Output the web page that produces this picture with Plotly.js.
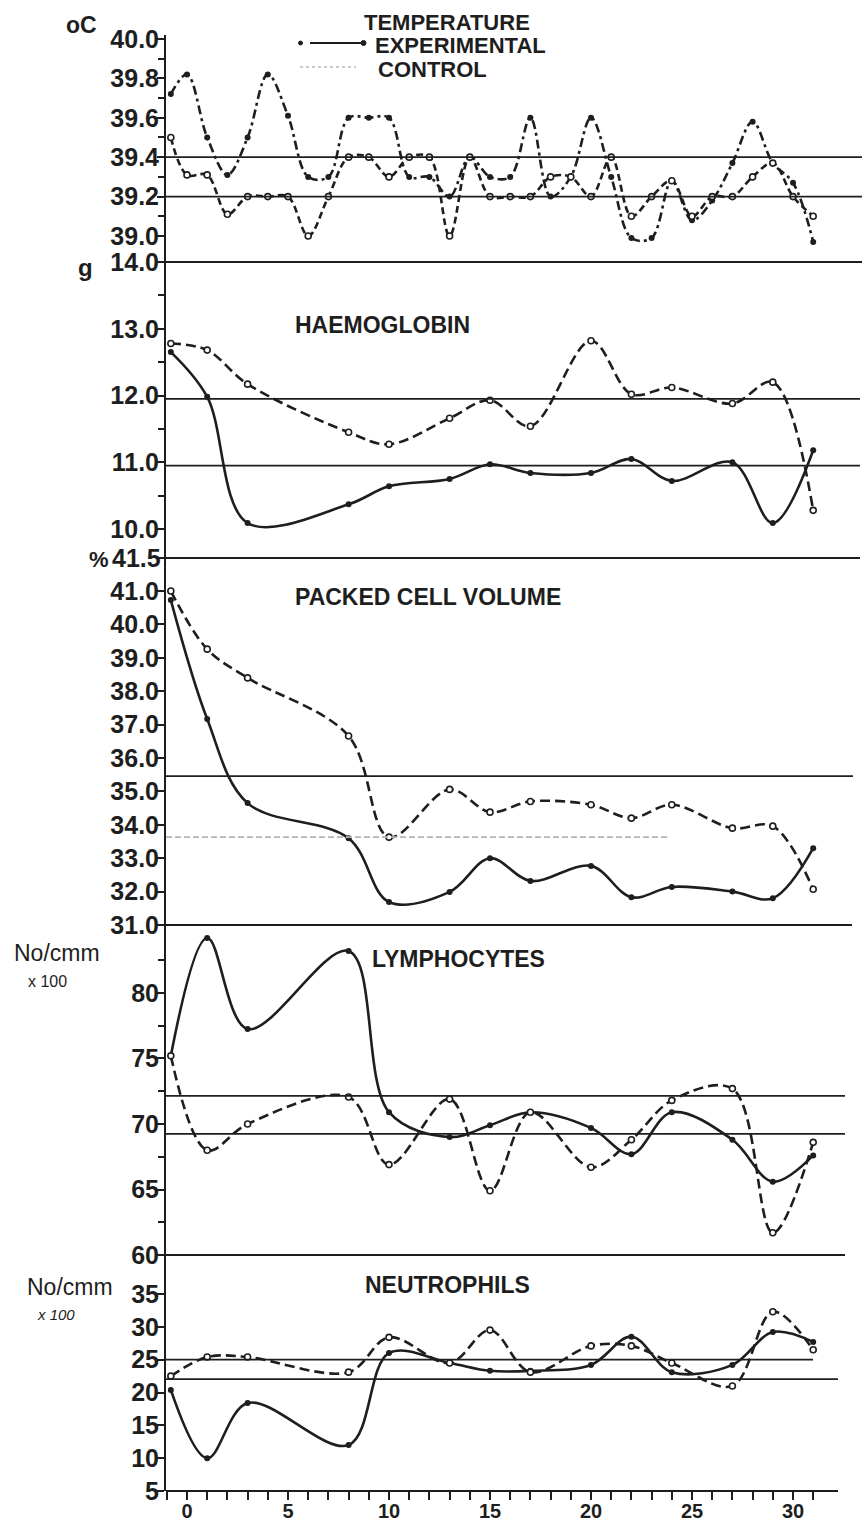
<!DOCTYPE html>
<html>
<head>
<meta charset="utf-8">
<script src="https://cdn.plot.ly/plotly-3.0.1.min.js"></script>
<style>
html,body{margin:0;padding:0;background:#fff;}
#chart{width:864px;height:1525px;}
</style>
</head>
<body>
<div id="chart"></div>
<script>
// ---------------- DATA ----------------
var tempDays = [-0.8,0,1,2,3,4,5,6,7,8,9,10,11,12,13,14,15,16,17,18,19,20,21,22,23,24,25,26,27,28,29,30,31];
var tempExp  = [39.72,39.82,39.5,39.31,39.5,39.82,39.61,39.3,39.3,39.6,39.6,39.6,39.3,39.3,39.2,39.4,39.3,39.3,39.6,39.2,39.3,39.6,39.3,38.99,38.99,39.28,39.08,39.18,39.37,39.58,39.37,39.27,38.97];
var tempCon  = [39.5,39.31,39.31,39.11,39.2,39.2,39.2,39.0,39.2,39.4,39.4,39.3,39.4,39.4,39.0,39.4,39.2,39.2,39.2,39.3,39.3,39.2,39.4,39.1,39.2,39.28,39.1,39.2,39.2,39.3,39.37,39.2,39.1];

var sampleDays = [-0.8,1,3,8,10,13,15,17,20,22,24,27,29,31];
var hbExp  = [12.65,11.98,10.09,10.37,10.64,10.75,10.97,10.84,10.84,11.05,10.72,11.0,10.09,11.18];
var hbCon  = [12.78,12.68,12.17,11.45,11.27,11.66,11.93,11.54,12.82,12.02,12.12,11.88,12.2,10.28];
var pcvExp = [40.73,37.17,34.65,33.6,31.69,31.99,33.0,32.32,32.77,31.83,32.14,32.0,31.8,33.3];
var pcvCon = [41.0,39.26,38.4,36.66,33.63,35.06,34.38,34.7,34.6,34.2,34.6,33.9,33.96,32.07];
var lymExp = [75.2,84.2,77.25,83.2,70.9,69.0,69.9,70.9,69.7,67.7,70.9,68.8,65.6,67.6];
var lymCon = [75.2,68.0,70.0,72.06,66.9,71.9,64.9,70.9,66.7,68.8,71.8,72.7,61.7,68.6];
var neuExp = [20.4,10.0,18.4,12.0,26.0,24.5,23.3,23.3,24.2,28.5,23.1,24.2,29.2,27.7];
var neuCon = [22.5,25.4,25.4,23.1,28.4,24.5,29.5,23.1,27.1,27.1,24.5,21.0,32.3,26.5];

// normal-range reference lines
var tempRef = [39.4, 39.2];
var hbRef   = [11.95, 10.95];
var pcvRef  = [35.46];
var pcvRefFaint = [33.63];
var lymRef  = [72.14, 69.24];
var neuRef  = [25.0, 22.05];

// tick labels
var xTickVals = [-1,0,1,2,3,4,5,6,7,8,9,10,11,12,13,14,15,16,17,18,19,20,21,22,23,24,25,26,27,28,29,30,31];
var xTickText = ['','0','','','','','5','','','','','10','','','','','15','','','','','20','','','','','25','','','','','30',''];
var tempTicks = [39.0,39.2,39.4,39.6,39.8,40.0];
var tempTickText = ['39.0','39.2','39.4','39.6','39.8','40.0'];
var tempMinor = [39.1,39.3,39.5,39.7,39.9];
var hbTicks = [10,11,12,13,14];
var hbTickText = ['10.0','11.0','12.0','13.0','14.0'];
var hbMinor = [10.5,11.5,12.5,13.5];
var pcvTicks = [31,32,33,34,35,36,37,38,39,40,41];
var pcvTickText = ['31.0','32.0','33.0','34.0','35.0','36.0','37.0','38.0','39.0','40.0','41.0'];
var lymTicks = [60,65,70,75,80];
var lymTickText = ['60','65','70','75','80'];
var lymMinor = [62.5,67.5,72.5,77.5,82.5];
var neuTicks = [5,10,15,20,25,30,35];
var neuTickText = ['5','10','15','20','25','30','35'];

// ---------------- LAYOUT HELPERS ----------------
var W = 864, H = 1525, ML = 166, MR = 2, MT = 35, MB = 34;
var PW = W - ML - MR, PH = H - MT - MB;
function px(x){ return (x - ML) / PW; }
function py(y){ return (H - MB - y) / PH; }
var INK = '#1e1e1e';
var FONT = 'Liberation Sans, Arial, Helvetica, sans-serif';

function expTrace(x, y, ya, dash){
  return {x:x, y:y, yaxis:ya, xaxis:'x', type:'scatter', mode:'lines+markers',
    line:{color:INK, width:2.6, shape:'spline', smoothing:1, dash:dash||'solid'},
    marker:{color:INK, size:6, symbol:'circle'}, showlegend:false, hoverinfo:'skip'};
}
function conTrace(x, y, ya, dash){
  return {x:x, y:y, yaxis:ya, xaxis:'x', type:'scatter', mode:'lines+markers',
    line:{color:INK, width:2.6, shape:'spline', smoothing:1, dash:dash||'10px,5px'},
    marker:{color:'#fff', size:6, symbol:'circle', line:{color:INK, width:1.6}}, showlegend:false, hoverinfo:'skip'};
}

var traces = [
  expTrace(tempDays, tempExp, 'y', '9px,4px,3px,4px'),
  conTrace(tempDays, tempCon, 'y', '7px,4px'),
  expTrace(sampleDays, hbExp, 'y2'),
  conTrace(sampleDays, hbCon, 'y2'),
  expTrace(sampleDays, pcvExp, 'y3'),
  conTrace(sampleDays, pcvCon, 'y3'),
  expTrace(sampleDays, lymExp, 'y4'),
  conTrace(sampleDays, lymCon, 'y4'),
  expTrace(sampleDays, neuExp, 'y5'),
  conTrace(sampleDays, neuCon, 'y5')
];

var tickFont = {family:FONT, size:25, color:INK, weight:'bold'};
function yAxis(dom, rng, tv, tt, minor){
  var a = {domain:dom, range:rng, anchor:'x', showline:true, linecolor:INK, linewidth:2,
    ticks:'outside', ticklen:7, tickwidth:2, tickcolor:INK, showgrid:false, zeroline:false,
    tickmode:'array', tickvals:tv, ticktext:tt, tickfont:tickFont, ticklabelstandoff:-7, fixedrange:true};
  if (minor) a.minor = {tickmode:'array', tickvals:minor, ticks:'outside', ticklen:6, tickwidth:2, tickcolor:INK, showgrid:false};
  return a;
}

var xPerPx = 1/20.2, day0px = 187;
function dx(p){ return (p - day0px) * xPerPx; }

var shapes = [];
function hline(ya, v, x1px, color, dash, w){
  shapes.push({type:'line', xref:'x', yref:ya, x0:dx(ML), x1:dx(x1px), y0:v, y1:v,
    line:{color:color||INK, width:w||1.8, dash:dash||'solid'}});
}
tempRef.forEach(function(v){ hline('y', v, 862); });
hbRef.forEach(function(v){ hline('y2', v, 860); });
pcvRef.forEach(function(v){ hline('y3', v, 853); });
pcvRefFaint.forEach(function(v){ hline('y3', v, 670, '#b5b5b5', '6px,3px', 1.6); });
hline('y4', lymRef[0], 845); hline('y4', lymRef[1], 845);
hline('y5', neuRef[0], 813); hline('y5', neuRef[1], 838);

// panel separators
[[262,862],[558,860],[925,852],[1255,845]].forEach(function(s){
  shapes.push({type:'line', xref:'paper', yref:'paper', x0:px(159), x1:px(s[1]), y0:py(s[0]), y1:py(s[0]),
    line:{color:INK, width:2.2}});
});
// bottom axis line
shapes.push({type:'line', xref:'x', yref:'paper', x0:dx(ML), x1:dx(838), y0:0, y1:0, line:{color:INK, width:2.2}});
// legend samples
shapes.push({type:'line', xref:'paper', yref:'paper', x0:px(310), x1:px(361), y0:py(43), y1:py(43), line:{color:INK, width:1.8}});
shapes.push({type:'circle', xref:'paper', yref:'paper', x0:px(361), x1:px(366), y0:py(45.5), y1:py(40.5), fillcolor:INK, line:{color:INK, width:1}});
shapes.push({type:'circle', xref:'paper', yref:'paper', x0:px(298.5), x1:px(302.5), y0:py(45), y1:py(41), fillcolor:INK, line:{color:INK, width:1}});
shapes.push({type:'line', xref:'paper', yref:'paper', x0:px(300), x1:px(356), y0:py(67), y1:py(67), line:{color:'#b8b8b8', width:1.6, dash:'dot'}});

var annotations = [];
function ann(text, xp, yp, anchor, size, bold, extra){
  var a = {text:text, xref:'paper', yref:'paper', x:px(xp), y:py(yp), xanchor:anchor||'left', yanchor:'middle',
    showarrow:false, font:{family:FONT, size:size, color:INK, weight: bold ? 'bold' : 'normal'}};
  if (extra) for (var k in extra) a[k] = extra[k];
  annotations.push(a);
}
ann('TEMPERATURE', 362, 22, 'left', 22, true);
ann('EXPERIMENTAL', 373, 46, 'left', 22, true);
ann('CONTROL', 376, 69, 'left', 22, true);
ann('HAEMOGLOBIN', 293, 325, 'left', 23, true);
ann('PACKED CELL VOLUME', 293, 597, 'left', 23, true);
ann('LYMPHOCYTES', 370, 959, 'left', 23, true);
ann('NEUTROPHILS', 363, 1285, 'left', 23, true);
ann('oC', 81, 25, 'center', 23, true);
ann('g', 85, 267, 'center', 24, true);
ann('%', 99, 559, 'center', 22, true);
ann('41.5', 163, 558, 'right', 25, true);
ann('No/cmm', 57, 953, 'center', 23, false);
ann('x 100', 47, 981, 'center', 16, false);
ann('No/cmm', 70, 1287, 'center', 23, false);
ann('x 100', 56, 1314, 'center', 15, false, {font:{family:FONT, size:15, color:INK, style:'italic'}});

var layout = {
  width:W, height:H, margin:{l:ML, r:MR, t:MT, b:MB, pad:0},
  paper_bgcolor:'#fff', plot_bgcolor:'#fff', showlegend:false,
  xaxis:{range:[dx(ML), dx(W-MR)], anchor:'y5', showline:false, showgrid:false, zeroline:false,
    tickmode:'array', tickvals:xTickVals, ticktext:xTickText, ticks:'outside', ticklen:8, tickwidth:2,
    tickcolor:INK, tickfont:{family:FONT, size:20, color:INK, weight:'bold'}, ticklabelstandoff:-6, fixedrange:true},
  yaxis:  yAxis([py(262), 1], [38.868, 40.02], tempTicks, tempTickText, tempMinor),
  yaxis2: yAxis([py(558), py(262)], [9.566, 14.0], hbTicks, hbTickText, hbMinor),
  yaxis3: yAxis([py(925), py(558)], [31, 41.99], pcvTicks, pcvTickText, null),
  yaxis4: yAxis([py(1255), py(925)], [60, 85.19], lymTicks, lymTickText, lymMinor),
  yaxis5: yAxis([0, py(1255)], [5, 40.94], neuTicks, neuTickText, null),
  shapes:shapes, annotations:annotations
};

Plotly.newPlot('chart', traces, layout, {displayModeBar:false, staticPlot:true});
</script>
</body>
</html>
